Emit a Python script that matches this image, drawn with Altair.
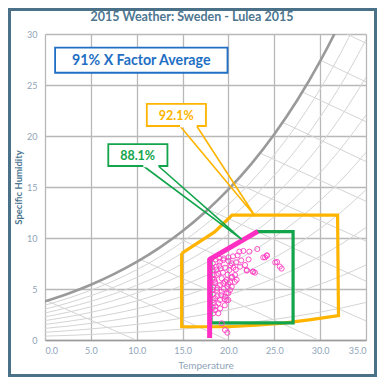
import altair as alt
import pandas as pd

# ---------------- data ----------------
# psychrometric background: saturation curve (g/kg) sampled along temperature
grid_T = [0, 2.5, 5, 7.5, 10, 12.5, 15, 17.5, 20, 22.5, 25, 27.5, 30, 32.5, 35]
sat_W = [3.79, 4.54, 5.42, 6.46, 7.66, 9.06, 10.69, 12.58, 14.76, 17.27, 20.17, 23.50, 27.33, 31.74, 36.79]
rh_10 = [0.38, 0.45, 0.54, 0.65, 0.77, 0.91, 1.07, 1.26, 1.48, 1.73, 2.02, 2.35, 2.73, 3.17, 3.68]
rh_20 = [0.76, 0.91, 1.08, 1.29, 1.53, 1.81, 2.14, 2.52, 2.95, 3.45, 4.03, 4.70, 5.47, 6.35, 7.36]
rh_30 = [1.14, 1.36, 1.63, 1.94, 2.30, 2.72, 3.21, 3.77, 4.43, 5.18, 6.05, 7.05, 8.20, 9.52, 11.04]
rh_40 = [1.52, 1.82, 2.17, 2.58, 3.06, 3.62, 4.28, 5.03, 5.90, 6.91, 8.07, 9.40, 10.93, 12.70, 14.72]
rh_50 = [1.90, 2.27, 2.71, 3.23, 3.83, 4.53, 5.35, 6.29, 7.38, 8.64, 10.09, 11.75, 13.67, 15.87, 18.40]
rh_60 = [2.27, 2.72, 3.25, 3.88, 4.60, 5.44, 6.41, 7.55, 8.86, 10.36, 12.10, 14.10, 16.40, 19.04, 22.07]
rh_70 = [2.65, 3.18, 3.79, 4.52, 5.36, 6.34, 7.48, 8.81, 10.33, 12.09, 14.12, 16.45, 19.13, 22.22, 25.75]
rh_80 = [3.03, 3.63, 4.34, 5.17, 6.13, 7.25, 8.55, 10.06, 11.81, 13.82, 16.14, 18.80, 21.86, 25.39, 29.43]
rh_90 = [3.41, 4.09, 4.88, 5.81, 6.89, 8.15, 9.62, 11.32, 13.28, 15.54, 18.15, 21.15, 24.60, 28.57, 33.11]

# diagonal (enthalpy) lines: start / end points
enth_T1 = [0.2, 5.8, 10.4, 14.2, 17.8, 20.8, 23.5, 26.0, 28.1, 30.1, 32.9]
enth_W1 = [3.85, 5.75, 7.9, 10.1, 12.8, 15.4, 18.3, 21.3, 24.3, 27.4, 30.0]
enth_T2 = [9.9, 19.9, 29.8, 35, 35, 35, 35, 35, 35, 35, 35]
enth_W2 = [0, 0, 0, 1.87, 5.77, 9.7, 13.6, 17.5, 21.4, 25.3, 29.1]

# zones
orange_T = [14.9, 14.9, 20.0, 23.0, 26.0, 29.0, 32.0, 31.9, 20.4, 18.5, 14.9]
orange_W = [8.5, 1.3, 1.3, 1.45, 1.65, 2.0, 2.4, 12.25, 12.25, 10.6, 8.5]
green_T = [18.1, 27.05, 27.05, 23.1, 18.1, 18.1]
green_W = [1.67, 1.67, 10.62, 10.62, 7.9, 1.67]
magenta_T = [17.95, 17.95, 23.2]
magenta_W = [0.2, 7.9, 10.65]

# hourly observations (temperature, specific humidity)
obs_T = [21.19, 21.63, 22.28, 23.15, 23.8, 24.18, 19.08, 19.44, 19.99, 20.36, 20.83,
         21.27, 21.81, 22.0, 22.72, 18.65, 19.16, 19.63, 20.1, 20.54, 18.72, 19.27,
         19.81, 20.36, 20.72, 18.54, 19.44, 20.17, 18.54, 19.08, 19.63, 19.99, 20.36,
         18.72, 19.27, 19.81, 20.17, 18.54, 19.08, 19.63, 19.99, 18.54, 18.9, 18.35,
         19.27, 19.63, 19.88, 18.3, 18.3, 18.25, 18.35, 18.3, 18.4, 18.3, 18.2, 18.4,
         18.45, 18.3, 18.3, 24.2, 24.0, 25.1, 25.3, 25.8, 25.6, 22.65, 22.9, 22.0,
         20.9, 20.7, 20.4, 19.8, 19.6, 18.9, 21.0, 20.5, 20.0, 19.5, 19.0, 18.6, 20.8,
         21.4, 22.2, 19.4, 18.9, 19.9, 20.2, 19.0, 18.7, 19.5, 20.0, 19.2, 18.8, 18.6,
         19.1, 19.6, 18.8, 19.9]
obs_W = [8.66, 8.73, 8.66, 8.92, 8.1, 8.26, 7.67, 7.84, 7.75, 7.52, 7.62,
         7.19, 7.35, 6.86, 6.7, 7.19, 7.03, 7.09, 6.86, 7.09, 6.37, 6.05,
         5.88, 6.11, 6.37, 5.72, 5.56, 5.66, 5.56, 5.39, 5.72, 5.49, 5.23,
         4.9, 4.74, 4.58, 4.9, 4.09, 3.92, 4.25, 3.92, 2.94, 2.62, 2.62,
         1.64, 0.98, 0.72, 7.5, 6.8, 6.0, 5.2, 4.5, 3.6, 3.2, 7.1, 6.4,
         5.9, 4.9, 3.9, 8.3, 8.1, 7.6, 7.65, 7.0, 7.2, 6.7, 6.6, 6.8,
         5.9, 5.7, 6.2, 3.9, 4.0, 3.6, 8.3, 8.2, 8.1, 8.0, 8.0, 7.9, 6.9,
         7.8, 7.9, 6.6, 6.5, 6.4, 7.3, 7.3, 6.9, 5.0, 4.6, 4.4, 4.3, 3.3,
         3.1, 3.4, 5.1, 5.2]

# annotation boxes
box_labels = ["91% X Factor Average", "92.1%", "88.1%"]
box_T1 = [1.1, 11.1, 6.9]
box_T2 = [19.9, 17.55, 13.35]
box_W1 = [26.2, 20.98, 17.06]
box_W2 = [28.66, 23.14, 19.2]
box_textT = [10.5, 14.3, 10.1]
box_textW = [27.38, 22.0, 18.08]
box_colors = ["#1f6fc4", "#ffb400", "#13a54b"]
box_sizes = [14.2, 12.5, 12.5]

# callout tails (base-left, tip, base-right)
tail_orange_T = [14.72, 22.9, 16.54]
tail_orange_W = [20.98, 12.16, 20.98]
tail_green_T = [10.72, 21.45, 12.36]
tail_green_W = [17.06, 9.87, 17.06]

title_text = "2015 Weather: Sweden - Lulea 2015"

# ---------------- frames ----------------
rows = []
for name, vals in [("rh10", rh_10), ("rh20", rh_20), ("rh30", rh_30), ("rh40", rh_40),
                   ("rh50", rh_50), ("rh60", rh_60), ("rh70", rh_70), ("rh80", rh_80),
                   ("rh90", rh_90)]:
    for i, (t, w) in enumerate(zip(grid_T, vals)):
        rows.append({"T": t, "W": w, "id": name, "ord": i})
rh_df = pd.DataFrame(rows)

rows = []
for k in range(len(enth_T1)):
    rows.append({"T": enth_T1[k], "W": enth_W1[k], "id": k, "ord": 0})
    rows.append({"T": enth_T2[k], "W": enth_W2[k], "id": k, "ord": 1})
enth_df = pd.DataFrame(rows)

sat_df = pd.DataFrame({"T": grid_T, "W": sat_W, "ord": range(len(grid_T))})
orange_df = pd.DataFrame({"T": orange_T, "W": orange_W, "ord": range(len(orange_T))})
green_df = pd.DataFrame({"T": green_T, "W": green_W, "ord": range(len(green_T))})
mag_df = pd.DataFrame({"T": magenta_T, "W": magenta_W, "ord": range(len(magenta_T))})
obs_df = pd.DataFrame({"T": obs_T, "W": obs_W})
box_df = pd.DataFrame({"label": box_labels, "T": box_T1, "T2": box_T2, "W": box_W1,
                       "W2": box_W2, "tT": box_textT, "tW": box_textW,
                       "size": box_sizes})
tail_o_df = pd.DataFrame({"T": tail_orange_T, "W": tail_orange_W, "ord": [0, 1, 2]})
tail_g_df = pd.DataFrame({"T": tail_green_T, "W": tail_green_W, "ord": [0, 1, 2]})
gap_df = pd.DataFrame({"T": [tail_orange_T[0], tail_orange_T[2], tail_green_T[0], tail_green_T[2]],
                       "W": [tail_orange_W[0], tail_orange_W[2], tail_green_W[0], tail_green_W[2]],
                       "id": ["o", "o", "g", "g"], "ord": [0, 1, 0, 1]})
one = pd.DataFrame({"a": [0]})

FONT = "Lato"
xs = alt.Scale(domain=[0, 35], nice=False, zero=False)
ys = alt.Scale(domain=[0, 30], nice=False, zero=False)

x_axis = alt.Axis(values=[0, 5, 10, 15, 20, 25, 30, 35], format=".1f", grid=True,
                  gridColor="#b8b8b8", gridWidth=1.3, domainColor="#9c9c9c",
                  domainWidth=1.5, ticks=False, labelColor="#8fa4b9", labelFontSize=9,
                  labelFont=FONT, labelPadding=6, title="Temperature",
                  titleColor="#8fa4b9", titleFont=FONT, titleFontSize=10,
                  titleFontWeight="normal", titlePadding=5)
y_axis = alt.Axis(values=[0, 5, 10, 15, 20, 25, 30], grid=True, gridColor="#b8b8b8",
                  gridWidth=1.3, domain=False, ticks=False, labelColor="#8fa4b9",
                  labelFontSize=9, labelFont=FONT, labelPadding=8,
                  title="Specific Humidity", titleColor="#4d7690", titleFont=FONT,
                  titleFontSize=9.5, titleFontWeight="bold", titlePadding=3)
X = alt.X("T:Q", scale=xs, axis=x_axis)
Y = alt.Y("W:Q", scale=ys, axis=y_axis)
color_scale = alt.Scale(domain=box_labels, range=box_colors)

rh_layer = alt.Chart(rh_df).mark_line(color="#d4d4d4", strokeWidth=1, clip=True,
                                      interpolate="monotone").encode(
    x=X, y=Y, detail="id:N", order="ord:Q")
enth_layer = alt.Chart(enth_df).mark_line(color="#d4d4d4", strokeWidth=1, clip=True).encode(
    x=X, y=Y, detail="id:N", order="ord:Q")
sat_layer = alt.Chart(sat_df).mark_line(color="#9a9a9a", strokeWidth=2.6, clip=True,
                                        interpolate="monotone").encode(
    x=X, y=Y, order="ord:Q")
orange_layer = alt.Chart(orange_df).mark_line(color="#ffb400", strokeWidth=3.2,
                                              strokeJoin="miter").encode(
    x=X, y=Y, order="ord:Q")
green_layer = alt.Chart(green_df).mark_line(color="#13a54b", strokeWidth=3.2,
                                            strokeJoin="miter").encode(
    x=X, y=Y, order="ord:Q")
obs_layer = alt.Chart(obs_df).mark_point(shape="circle", filled=False, size=26,
                                         color="#ff3fc6", strokeWidth=1,
                                         opacity=0.9).encode(x=X, y=Y)
mag_layer = alt.Chart(mag_df).mark_line(color="#ff2fc3", strokeWidth=5,
                                        strokeJoin="round").encode(
    x=X, y=Y, order="ord:Q")
tail_o = alt.Chart(tail_o_df).mark_line(color="#ffb400", strokeWidth=1.6).encode(
    x=X, y=Y, order="ord:Q")
tail_g = alt.Chart(tail_g_df).mark_line(color="#13a54b", strokeWidth=1.6).encode(
    x=X, y=Y, order="ord:Q")
boxes = alt.Chart(box_df).mark_rect(fill="white", strokeWidth=1.8).encode(
    x=X, x2="T2:Q", y=Y, y2="W2:Q",
    stroke=alt.Stroke("label:N", scale=color_scale, legend=None))
gaps = alt.Chart(gap_df).mark_line(color="white", strokeWidth=2.6).encode(
    x=X, y=Y, detail="id:N", order="ord:Q")
box_text = alt.Chart(box_df).mark_text(font=FONT, fontWeight="bold", baseline="middle",
                                       align="center").encode(
    x=alt.X("tT:Q", scale=xs, axis=x_axis), y=alt.Y("tW:Q", scale=ys, axis=y_axis),
    text="label:N", size=alt.Size("size:Q", scale=None, legend=None),
    color=alt.Color("label:N", scale=color_scale, legend=None))
title_layer = alt.Chart(one).mark_text(font=FONT, fontWeight="bold", fontSize=12.5,
                                       color="#4d7690", align="center",
                                       baseline="middle").encode(
    x=alt.value(147), y=alt.value(-17), text=alt.value(title_text))
frame = alt.Chart(one).mark_rect(fillOpacity=0, stroke="#4b7189", strokeWidth=3).encode(
    x=alt.value(-35.5), x2=alt.value(330.5), y=alt.value(-24.5), y2=alt.value(341.5))

chart = alt.layer(rh_layer, enth_layer, sat_layer, orange_layer, green_layer, obs_layer,
                  mag_layer, tail_o, tail_g, boxes, gaps, box_text, title_layer, frame
                  ).properties(
    width=321, height=306,
    autosize=alt.AutoSizeParams(type="none"),
    padding={"left": 37, "top": 26, "right": 11, "bottom": 37},
    background="white",
).configure_view(stroke="transparent")

chart.save("out.html", embed_options={"renderer": "svg", "actions": False})
